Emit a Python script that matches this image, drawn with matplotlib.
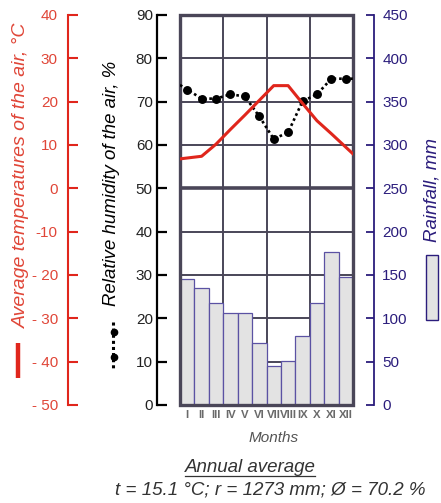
"""Climate diagram: monthly temperature, relative humidity and rainfall."""
import numpy as np
import matplotlib
matplotlib.use("Agg")
import matplotlib.pyplot as plt
from matplotlib.lines import Line2D
from matplotlib.patches import Rectangle

plt.rcParams["font.family"] = ["Liberation Sans", "DejaVu Sans"]

W, H = 441, 503

# data
months = ["I", "II", "III", "IV", "V", "VI", "VII", "VIII", "IX", "X", "XI", "XII"]
rainfall_mm = [145, 135, 118, 106, 106, 71, 45, 51, 80, 118, 177, 148]
humidity_pct = [72.8, 70.7, 70.7, 71.7, 71.2, 66.6, 61.4, 62.9, 70.1, 71.7, 75.3, 75.3]
temp_c = [7.0, 7.4, 10.2, 13.6, 16.9, 20.3, 23.7, 23.7, 19.6, 15.6, 12.6, 9.5]
temp_ticks = [40, 30, 20, 10, 0, -10, -20, -30, -40, -50]
temp_ticklabels = ["40", "30", "20", "10", "0", "-10", "- 20", "- 30", "- 40", "- 50"]

RED = "#e0261c"
RED_TXT = "#e04638"
INDIGO = "#2b1d7c"
GRID = "#4a4658"
BAR_FC = "#e3e3e3"
BAR_EC = "#5b52a3"


def fx(x):
    return x / W


def fy(y):
    return 1 - y / H


def to_edges(vals):
    # carry the line out half a month to the frame, following the end slopes
    v = list(vals)
    return [v[0] + (v[0] - v[1]) / 2] + v + [v[-1] + (v[-1] - v[-2]) / 2]


fig = plt.figure(figsize=(W / 100, H / 100), dpi=100)
ax_r = fig.add_axes([fx(180), fy(405), (353 - 180) / W, (405 - 15) / H])
ax_h = ax_r.twinx()
ax_t = ax_r.twinx()

x = np.arange(1, 13)
x_ext = np.concatenate([[0.5], x, [12.5]])

# rainfall bars + grid (bottom layer)
for yv in range(50, 450, 50):
    ax_r.axhline(yv, color=GRID, lw=1.4 if yv != 250 else 2.6, zorder=0)
for xv in (3.5, 6.5, 9.5):
    ax_r.axvline(xv, color=GRID, lw=1.4, zorder=0)
ax_r.bar(x, rainfall_mm, width=1.0, color=BAR_FC, edgecolor=BAR_EC, lw=0.9, zorder=2)
ax_r.add_patch(Rectangle((0, 0), 1, 1, transform=ax_r.transAxes, fill=False,
                         ec=GRID, lw=2.4, zorder=3, clip_on=False))
ax_r.set_xlim(0.5, 12.5)
ax_r.set_ylim(0, 450)
ax_r.set_yticks(range(0, 451, 50))
ax_r.yaxis.tick_right()
for s in ("left", "top", "bottom"):
    ax_r.spines[s].set_visible(False)
ax_r.spines["right"].set_position(("outward", 15))
ax_r.spines["right"].set_color(INDIGO)
ax_r.spines["right"].set_linewidth(1.3)
ax_r.tick_params(axis="y", direction="in", length=6, width=1.3, color=INDIGO,
                 labelcolor=INDIGO, labelsize=11, pad=6)
ax_r.set_xticks(x)
ax_r.set_xticklabels(months, fontsize=8.2, fontweight="bold", color="#6a6a6a")
ax_r.tick_params(axis="x", length=0, pad=3.5)

# humidity
ax_h.plot(x_ext, to_edges(humidity_pct), color="black", lw=1.9,
          linestyle=(0, (1, 1.1)), zorder=4)
ax_h.plot(x, humidity_pct, "o", color="black", ms=5.4, zorder=5)
ax_h.set_ylim(0, 90)
ax_h.set_yticks(range(0, 91, 10))
ax_h.yaxis.tick_left()
for s in ax_h.spines.values():
    s.set_visible(False)
ax_h.spines["left"].set_visible(True)
ax_h.spines["left"].set_position(("outward", 16.6))
ax_h.spines["left"].set_linewidth(1.6)
ax_h.tick_params(axis="y", direction="in", length=7, width=1.6, color="black",
                 labelcolor="#222222", labelsize=11, pad=3)

# temperature
ax_t.plot(x_ext, to_edges(temp_c), color=RED, lw=2.2, zorder=4)
ax_t.set_ylim(-50, 40)
ax_t.set_yticks(temp_ticks)
ax_t.set_yticklabels(temp_ticklabels)
ax_t.yaxis.tick_left()
for s in ax_t.spines.values():
    s.set_visible(False)
ax_t.spines["left"].set_visible(True)
ax_t.spines["left"].set_position(("outward", 81))
ax_t.spines["left"].set_color(RED)
ax_t.spines["left"].set_linewidth(1.5)
ax_t.tick_params(axis="y", direction="in", length=7.5, width=1.5, color=RED,
                 labelcolor=RED_TXT, labelsize=11, pad=7)

# axis titles
fig.text(fx(21), fy(175), "Average temperatures of the air, °C", rotation=90,
         color=RED_TXT, fontsize=14, style="italic", ha="center", va="center")
fig.text(fx(112), fy(183), "Relative humidity of the air, %", rotation=90,
         color="black", fontsize=13.4, style="italic", ha="center", va="center")
fig.text(fx(432), fy(190), "Rainfall, mm", rotation=90,
         color=INDIGO, fontsize=13.5, style="italic", ha="center", va="center")

# legend keys
fig.add_artist(Line2D([fx(17.7), fx(17.7)], [fy(343), fy(378)], color=RED, lw=3.2,
                      solid_capstyle="butt"))
fig.add_artist(Line2D([fx(113), fx(113)], [fy(322), fy(370)], color="black", lw=2.2,
                      linestyle=(0, (1, 1))))
fig.add_artist(Line2D([fx(114), fx(114)], [fy(332), fy(357)], color="black", lw=0,
                      marker="o", ms=4.5))
fig.add_artist(Rectangle((fx(426), fy(320)), 12 / W, 65 / H, transform=fig.transFigure,
                         fc=BAR_FC, ec=INDIGO, lw=1))

# bottom captions
fig.text(fx(274), fy(438), "Months", color="#555555", fontsize=11, style="italic",
         ha="center", va="center")
fig.text(fx(250), fy(467), "Annual average", color="#333333", fontsize=13.5,
         style="italic", ha="center", va="center")
fig.add_artist(Line2D([fx(185), fx(315)], [fy(476), fy(476)], color="#333333", lw=0.9))
fig.text(fx(270), fy(490), "t = 15.1 °C; r = 1273 mm; Ø = 70.2 %", color="#333333",
         fontsize=13.5, style="italic", ha="center", va="center")

fig.savefig("out.png", dpi=100)
